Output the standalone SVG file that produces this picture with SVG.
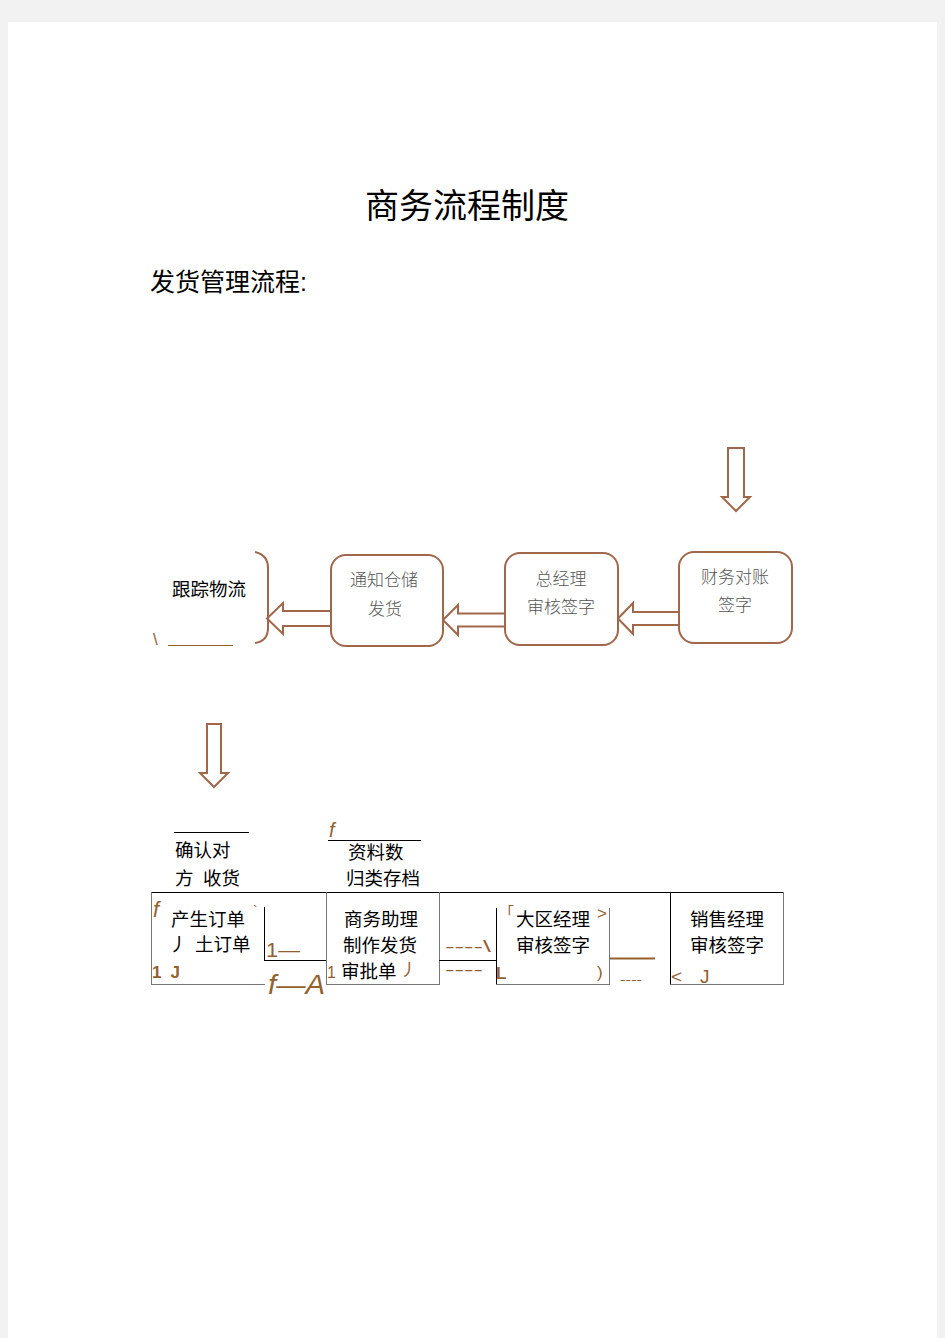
<svg xmlns="http://www.w3.org/2000/svg" width="945" height="1338" viewBox="0 0 945 1338">
<defs>
<style>
.bg{fill:#f2f2f2}
.page{fill:#fff}
.rbox{fill:#fff;stroke:#a0674a;stroke-width:2}
.arr{fill:#fff;stroke:#a0674a;stroke-width:2;stroke-linejoin:miter}
.btxt{font-family:"Noto Sans CJK SC","Liberation Sans",sans-serif;font-size:17px;fill:#555;text-anchor:middle;font-weight:300}
.t{font-family:"Liberation Sans","Noto Sans CJK SC",sans-serif;font-size:18.5px;fill:#000}
.br{font-family:"Liberation Sans","Noto Sans CJK SC",sans-serif;fill:#93602f}
.ln{stroke:#000;stroke-width:1;fill:none}
.gl{stroke:#777;stroke-width:1;fill:none}
.bl{stroke:#93602f;fill:none}
</style>
</defs>
<rect class="bg" x="0" y="0" width="945" height="1338"/>
<rect class="page" x="8" y="22" width="929" height="1316"/>

<text x="467" y="218" font-family="Liberation Sans,'Noto Sans CJK SC',sans-serif" font-size="34" text-anchor="middle" fill="#000">商务流程制度</text>
<text x="150" y="291" font-family="Liberation Sans,'Noto Sans CJK SC',sans-serif" font-size="25" fill="#000">发货管理流程:</text>

<g id="connectors">
<polygon class="arr" points="728,448 744,448 744,497 750,497 736,511 722,497 728,497"/>
<polygon class="arr" points="618,618.5 633,603 633,612 679,612 679,625 633,625 633,634"/>
<polygon class="arr" points="443,620 458,605 458,613.5 505,613.5 505,626.5 458,626.5 458,635"/>
<polygon class="arr" points="267,618.5 283,603 283,611 331,611 331,626 283,626 283,634"/>
<polygon class="arr" points="207,724 221,724 221,773 228,773 214,787 200,773 207,773"/>
</g>

<g id="node-tracking">
<path d="M255,552 Q268,555 268,568 L268,628 Q268,641 255,643" fill="none" stroke="#a0674a" stroke-width="2"/>
<text class="t" x="172" y="596">跟踪物流</text>
<text class="br" x="153" y="645" font-size="17">\</text>
<line x1="168" y1="645.5" x2="233" y2="645.5" stroke="#93602f" stroke-width="1"/>
</g>

<g id="node-warehouse">
<rect class="rbox" x="331" y="555" width="112" height="91" rx="15"/>
<text class="btxt" x="384" y="586">通知仓储</text>
<text class="btxt" x="385" y="615">发货</text>
</g>

<g id="node-gm">
<rect class="rbox" x="505" y="553" width="113" height="92" rx="15"/>
<text class="btxt" x="561" y="585">总经理</text>
<text class="btxt" x="561" y="613">审核签字</text>
</g>

<g id="node-finance">
<rect class="rbox" x="679" y="552" width="113" height="91" rx="15"/>
<text class="btxt" x="735" y="583">财务对账</text>
<text class="btxt" x="735" y="611">签字</text>
</g>

<g id="node-confirm">
<line class="ln" x1="174" y1="832.5" x2="249" y2="832.5"/>
<text class="t" x="175" y="857">确认对</text>
<text class="t" x="175" y="885">方</text>
<text class="t" x="203" y="885">收货</text>
</g>

<g id="node-archive">
<text class="br" x="329" y="837" font-size="20" font-style="italic">f</text>
<line class="ln" x1="328" y1="840.5" x2="421" y2="840.5"/>
<text class="t" x="348" y="859">资料数</text>
<text class="t" x="346" y="885">归类存档</text>
</g>

<g id="table-lines">
<line class="ln" x1="151" y1="892.5" x2="783" y2="892.5"/>
<line class="gl" x1="151.5" y1="892" x2="151.5" y2="984.5"/>
<line class="gl" x1="151" y1="984.5" x2="265" y2="984.5"/>
<line class="ln" x1="264.5" y1="907" x2="264.5" y2="960.5"/>
<line class="ln" x1="264" y1="960.5" x2="326" y2="960.5"/>
<line class="gl" x1="326.5" y1="892" x2="326.5" y2="985"/>
<line class="gl" x1="439.5" y1="892" x2="439.5" y2="985"/>
<line class="gl" x1="326" y1="984.5" x2="440" y2="984.5"/>
<line class="ln" x1="439" y1="960.5" x2="497" y2="960.5"/>
<line class="ln" x1="496.5" y1="908" x2="496.5" y2="985"/>
<line class="gl" x1="496" y1="984.5" x2="610" y2="984.5"/>
<line class="gl" x1="609.5" y1="908" x2="609.5" y2="985"/>
<line class="ln" x1="670.5" y1="892" x2="670.5" y2="985"/>
<line class="gl" x1="783.5" y1="892" x2="783.5" y2="985"/>
<line class="gl" x1="670" y1="984.5" x2="784" y2="984.5"/>
</g>

<g id="node-order">
<text class="br" x="153" y="917" font-size="22" font-style="italic">f</text>
<text class="br" x="253" y="916" font-size="14">`</text>
<text class="t" x="171" y="926">产生订单</text>
<text class="t" x="169" y="951">丿</text>
<text class="t" x="195" y="951">土订单</text>
<text class="br" x="152" y="978" font-size="17" font-weight="bold" textLength="28" lengthAdjust="spacing">1 J</text>
<text class="br" x="266" y="957" font-size="20" textLength="34" lengthAdjust="spacingAndGlyphs">1—</text>
<text class="br" x="268" y="994" font-size="28" font-style="italic" textLength="57" lengthAdjust="spacingAndGlyphs">f—A</text>
</g>

<g id="node-assistant">
<text class="t" x="344" y="926">商务助理</text>
<text class="t" x="343" y="952">制作发货</text>
<text class="br" x="327" y="978" font-size="16">1</text>
<text class="t" x="341" y="978">审批单</text>
<text class="br" x="400" y="976" font-size="17">丿</text>
<text class="br" x="445" y="952" font-size="17" textLength="46" lengthAdjust="spacingAndGlyphs">----\</text>
<text class="br" x="445" y="975" font-size="17" textLength="38" lengthAdjust="spacingAndGlyphs">----</text>
</g>

<g id="node-region">
<text class="br" x="499" y="918" font-size="15">「</text>
<text class="t" x="516" y="926">大区经理</text>
<text class="t" x="516" y="952">审核签字</text>
<text class="br" x="597" y="919" font-size="17">&gt;</text>
<text class="br" x="496" y="979" font-size="17" font-weight="bold">L</text>
<text class="br" x="597" y="978" font-size="17">)</text>
<line class="bl" x1="610" y1="958.5" x2="655" y2="958.5" stroke-width="2"/>
<text class="br" x="620" y="984" font-size="13" textLength="22" lengthAdjust="spacingAndGlyphs">----</text>
</g>

<g id="node-sales">
<text class="t" x="690" y="926">销售经理</text>
<text class="t" x="690" y="952">审核签字</text>
<text class="br" x="671" y="983" font-size="19">&lt;</text>
<text class="br" x="700" y="983" font-size="19">J</text>
</g>
</svg>
